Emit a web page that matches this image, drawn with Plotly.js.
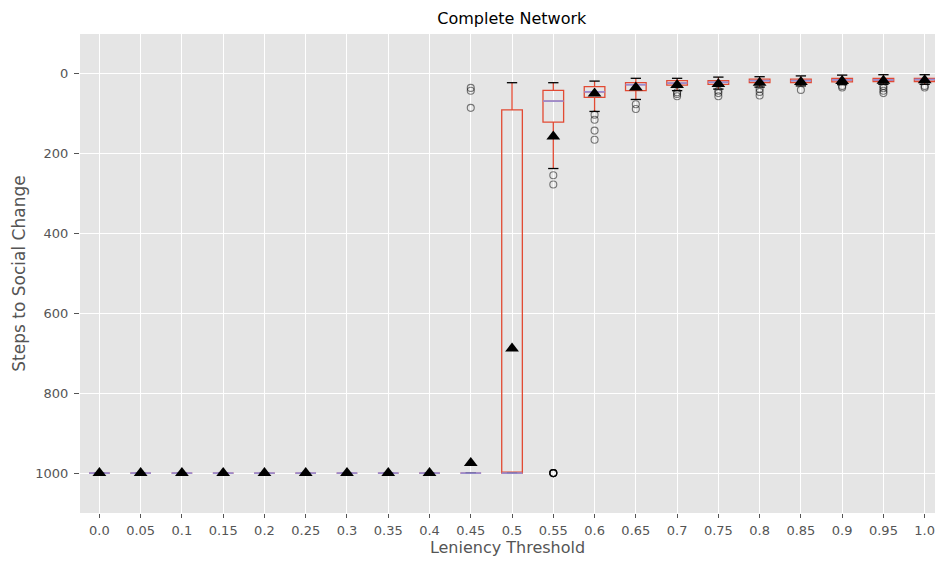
<!DOCTYPE html>
<html>
<head>
<meta charset="utf-8">
<script src="https://cdn.plot.ly/plotly-3.0.1.min.js"></script>
<style>html,body{margin:0;padding:0;background:#fff}#chart{width:935px;height:561px}</style>
</head>
<body>
<div id="chart"></div>
<script>
// Category labels (leniency thresholds)
const labels = ['0.0','0.05','0.1','0.15','0.2','0.25','0.3','0.35','0.4','0.45','0.5','0.55','0.6','0.65','0.7','0.75','0.8','0.85','0.9','0.95','1.0'];
// Box statistics (steps to social change)
const lowerWhisker = [1000,1000,1000,1000,1000,1000,1000,1000,1000,1000,22,22,18,11,11,8,7,5,3,2,2];
const q1Values     = [1000,1000,1000,1000,1000,1000,1000,1000,1000,1000,90,41,32,22,17,17,13,13,11,11,11];
const medians      = [1000,1000,1000,1000,1000,1000,1000,1000,1000,1000,1000,68,45,27,23,21,17,17,15,15,14];
const q3Values     = [1000,1000,1000,1000,1000,1000,1000,1000,1000,1000,1000,121,59,42,28,26,22,22,20,19,19];
const upperWhisker = [1000,1000,1000,1000,1000,1000,1000,1000,1000,1000,1000,237,94,64,42,38,33,30,27,26,26];
const means        = [1000,1000,1000,1000,1000,1000,1000,1000,1000,975,688,157,49,34,28,25,22,20,18,17,16];
const outliers = [
  [],[],[],[],[],[],[],[],[],
  [35,42,85],
  [],
  [254,277,1000,1000,1000,1000,1000,1000],
  [102,115,142,165],
  [76,88],
  [46,50,56],
  [42,48,56],
  [38,45,54],
  [40],
  [30,34],
  [30,36,42,48],
  [30,34]
];
const yTicks = [0,200,400,600,800,1000];

const idx = labels.map((_, i) => i);
const BOXW = 0.5, CAPW = 0.25;

function segs(vals, half) {
  const xs = [], ys = [];
  vals.forEach((v, i) => { xs.push(i - half, i + half, null); ys.push(v, v, null); });
  return {xs, ys};
}
const caps = (() => {
  const a = segs(lowerWhisker, CAPW/2), b = segs(upperWhisker, CAPW/2);
  return {xs: a.xs.concat(b.xs), ys: a.ys.concat(b.ys)};
})();
const med = segs(medians, BOXW/2);

const ox = [], oy = [];
outliers.forEach((arr, i) => arr.forEach(v => { ox.push(i); oy.push(v); }));

const traces = [
  {
    type: 'box', x: idx, q1: q1Values, median: medians, q3: q3Values,
    lowerfence: lowerWhisker, upperfence: upperWhisker,
    width: BOXW, whiskerwidth: 0, boxpoints: false,
    line: {color: '#E24A33', width: 1.3}, fillcolor: 'rgba(0,0,0,0)',
    hoverinfo: 'skip', showlegend: false
  },
  {
    type: 'scatter', mode: 'lines', x: caps.xs, y: caps.ys,
    line: {color: '#000', width: 1.3}, hoverinfo: 'skip', showlegend: false
  },
  {
    type: 'scatter', mode: 'lines', x: med.xs, y: med.ys,
    line: {color: '#988ED5', width: 1.7}, hoverinfo: 'skip', showlegend: false
  },
  {
    type: 'scatter', mode: 'markers', x: ox, y: oy,
    marker: {symbol: 'circle-open', size: 7, color: 'rgba(0,0,0,0.5)', line: {width: 1.1, color: 'rgba(0,0,0,0.5)'}},
    hoverinfo: 'skip', showlegend: false
  },
  {
    type: 'scatter', mode: 'markers', x: idx, y: means,
    marker: {symbol: 'triangle-up', size: 12, color: '#000'},
    hoverinfo: 'skip', showlegend: false
  }
];

const font = {family: 'DejaVu Sans, sans-serif', size: 13, color: '#555'};
const layout = {
  width: 935, height: 561,
  margin: {l: 80, r: 0, t: 34, b: 48, pad: 0},
  paper_bgcolor: '#fff', plot_bgcolor: '#E5E5E5',
  font: font,
  title: {text: 'Complete Network', x: 0.505, xref: 'paper', xanchor: 'center', y: 0.968, yanchor: 'middle',
          font: {family: 'DejaVu Sans, sans-serif', size: 16, color: '#000'}},
  xaxis: {
    range: [-0.47, 20.25], tickmode: 'array', tickvals: idx, ticktext: labels,
    showgrid: true, gridcolor: '#fff', gridwidth: 1, zeroline: false,
    ticks: 'outside', ticklen: 4, tickcolor: '#555', tickwidth: 1,
    tickfont: font, showline: false, ticklabelstandoff: 1, ticklabeloverflow: 'allow',
    title: {text: 'Leniency Threshold', font: {family: 'DejaVu Sans, sans-serif', size: 16, color: '#555'}, standoff: 4}
  },
  yaxis: {
    range: [1100, -100], tickmode: 'array', tickvals: yTicks, ticktext: yTicks.map(String),
    showgrid: true, gridcolor: '#fff', gridwidth: 1, zeroline: false,
    ticks: 'outside', ticklen: 5, tickcolor: '#555', tickwidth: 1,
    tickfont: font, showline: false, ticklabelstandoff: 3,
    title: {text: 'Steps to Social Change', font: {family: 'DejaVu Sans, sans-serif', size: 17, color: '#555'}, standoff: 5}
  },
  showlegend: false
};

Plotly.newPlot('chart', traces, layout, {staticPlot: true, displayModeBar: false});
</script>
</body>
</html>
